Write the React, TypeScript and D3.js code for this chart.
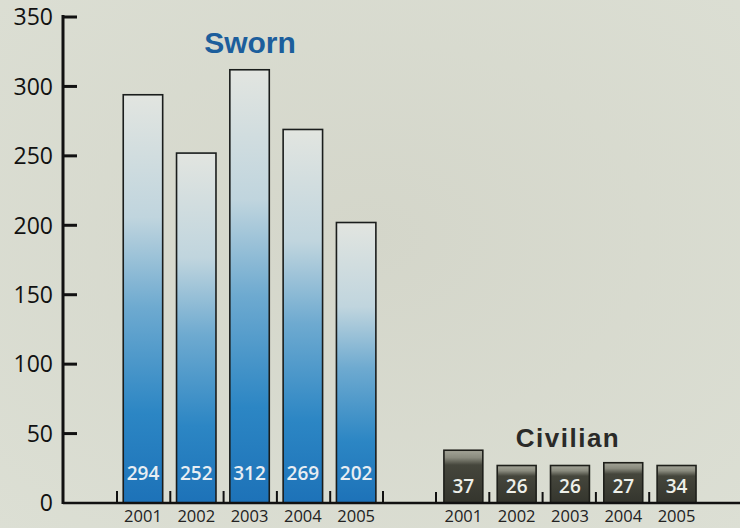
import * as d3 from "d3";

// values
const years = ["2001", "2002", "2003", "2004", "2005"];
const swornValues = [294, 252, 312, 269, 202];
const civilianLabels = [37, 26, 26, 27, 34];
// the civilian bars in the original are not drawn to their labels, so heights are kept apart
const civilianHeights = [38, 27, 27, 29, 27];
const yTicks = [0, 50, 100, 150, 200, 250, 300, 350];

const W = 740;
const H = 528;
const axisX = 63;
const baseY = 503;

export default function App() {
  const y = d3.scaleLinear().domain([0, 350]).range([baseY, 17]);

  const xSworn = d3.scaleBand<string>()
    .domain(years)
    .range([117, 383.5])
    .paddingInner(0.26)
    .paddingOuter(0.13)
    .align(0.45);
  const xCiv = d3.scaleBand<string>()
    .domain(years)
    .range([436, 702.5])
    .paddingInner(0.27)
    .paddingOuter(0.135)
    .align(0.55);

  const swornGap = xSworn.step() - xSworn.bandwidth();
  const civGap = xCiv.step() - xCiv.bandwidth();
  const font = "'Open Sans', 'Noto Sans', sans-serif";

  const swornTicks = [...years.map((yr) => xSworn(yr)! - swornGap * 0.45), 383];
  const civTicks = years.map((yr) => xCiv(yr)! - civGap * 0.55);

  return (
    <svg width={W} height={H} style={{ position: "absolute", left: 0, top: 0 }}>
      <defs>
        <linearGradient id="swornGrad" x1="0" y1="0" x2="0" y2="1">
          <stop offset="0%" stopColor="#e2e5e0" />
          <stop offset="30%" stopColor="#c0d5de" />
          <stop offset="52%" stopColor="#6eaad0" />
          <stop offset="78%" stopColor="#2c86c4" />
          <stop offset="100%" stopColor="#1d72b8" />
        </linearGradient>
        <linearGradient id="civGrad" x1="0" y1="0" x2="0" y2="1">
          <stop offset="0%" stopColor="#a4a598" />
          <stop offset="14%" stopColor="#8a8b7e" />
          <stop offset="28%" stopColor="#45463c" />
          <stop offset="100%" stopColor="#34352d" />
        </linearGradient>
        <radialGradient id="bgGrad" cx="0.5" cy="0.45" r="0.75">
          <stop offset="0%" stopColor="#d4d6ca" />
          <stop offset="100%" stopColor="#dcdfd4" />
        </radialGradient>
      </defs>
      <rect width={W} height={H} fill="url(#bgGrad)" />

      {/* sworn bars */}
      {years.map((yr, i) => (
        <g key={"s" + yr}>
          <rect
            x={xSworn(yr)}
            y={y(swornValues[i])}
            width={xSworn.bandwidth()}
            height={baseY - y(swornValues[i])}
            fill="url(#swornGrad)"
            stroke="#1a1d1c"
            strokeWidth={1.6}
          />
          <text
            x={xSworn(yr)! + xSworn.bandwidth() / 2}
            y={480}
            textAnchor="middle"
            fontFamily={font}
            fontSize={19}
            fontWeight={600}
            fill="#e8eef3"
          >
            {swornValues[i]}
          </text>
          <text
            x={xSworn(yr)! + xSworn.bandwidth() / 2}
            y={522}
            textAnchor="middle"
            fontFamily={font}
            fontSize={16.5}
            fill="#222"
          >
            {yr}
          </text>
        </g>
      ))}

      {/* civilian bars */}
      {years.map((yr, i) => (
        <g key={"c" + yr}>
          <rect
            x={xCiv(yr)}
            y={y(civilianHeights[i])}
            width={xCiv.bandwidth()}
            height={baseY - y(civilianHeights[i])}
            fill="url(#civGrad)"
            stroke="#1e1f1a"
            strokeWidth={1.6}
          />
          <text
            x={xCiv(yr)! + xCiv.bandwidth() / 2}
            y={493}
            textAnchor="middle"
            fontFamily={font}
            fontSize={19}
            fontWeight={600}
            fill="#eef0ea"
          >
            {civilianLabels[i]}
          </text>
          <text
            x={xCiv(yr)! + xCiv.bandwidth() / 2}
            y={522}
            textAnchor="middle"
            fontFamily={font}
            fontSize={16.5}
            fill="#222"
          >
            {yr}
          </text>
        </g>
      ))}

      {/* small ticks between bars */}
      {swornTicks.map((tx, i) => (
        <line key={"st" + i} x1={tx} x2={tx} y1={491} y2={baseY} stroke="#111" strokeWidth={2} />
      ))}
      {civTicks.map((tx, i) => (
        <line key={"ct" + i} x1={tx} x2={tx} y1={492} y2={baseY} stroke="#111" strokeWidth={2} />
      ))}

      {/* baseline */}
      <line x1={axisX} x2={W} y1={baseY} y2={baseY} stroke="#111" strokeWidth={2.5} />

      {/* y axis */}
      <line x1={axisX} x2={axisX} y1={y(350) - 2} y2={baseY + 1} stroke="#111" strokeWidth={3} />
      {yTicks.map((t) => (
        <g key={"y" + t}>
          {t > 0 && <line x1={axisX} x2={axisX + 14} y1={y(t)} y2={y(t)} stroke="#111" strokeWidth={3} />}
          <text
            x={53}
            y={y(t)}
            dy="0.36em"
            textAnchor="end"
            fontFamily={font}
            fontSize={23}
            fill="#111"
          >
            {t}
          </text>
        </g>
      ))}

      {/* group titles */}
      <text
        x={250}
        y={53}
        textAnchor="middle"
        fontFamily="'Liberation Sans', Arial, sans-serif"
        fontSize={30}
        fontWeight="bold"
        fill="#1c5e9c"
      >
        Sworn
      </text>
      <text
        x={568}
        y={447}
        textAnchor="middle"
        fontFamily="'Liberation Sans', Arial, sans-serif"
        fontSize={26}
        fontWeight="bold"
        letterSpacing={1.5}
        fill="#2a2a28"
      >
        Civilian
      </text>
    </svg>
  );
}
